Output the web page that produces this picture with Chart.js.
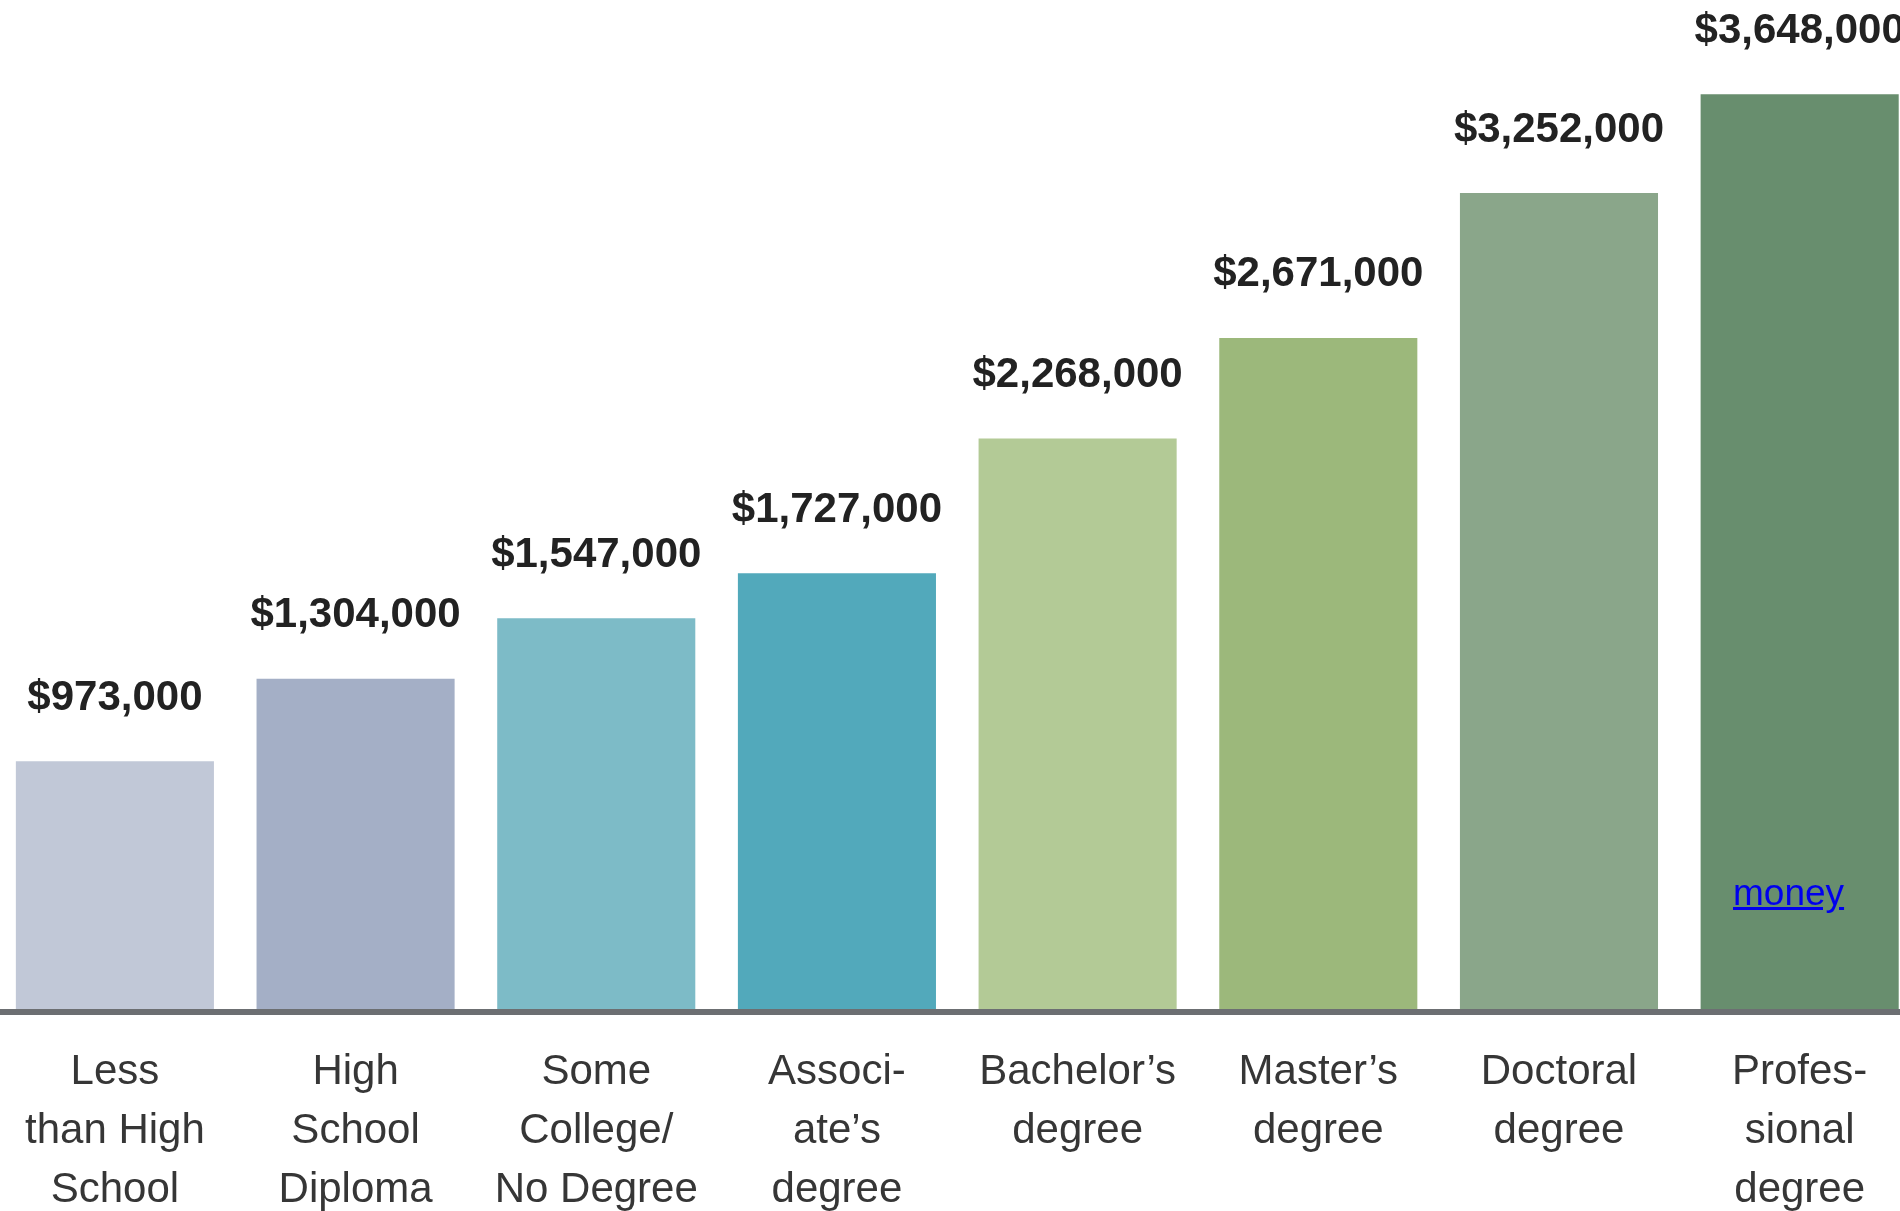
<!DOCTYPE html>
<html>
<head>
<meta charset="utf-8">
<title>Lifetime earnings by education</title>
<script src="https://cdn.jsdelivr.net/npm/chart.js@4.4.1/dist/chart.umd.min.js"></script>
<style>
  html, body { margin: 0; padding: 0; background: #fff; overflow: hidden; }
  #wrap { position: absolute; left: -6px; top: 0; width: 1926px; height: 1211px; }
  #money {
    position: absolute; left: 1733px; top: 872px;
    font: 37px "Liberation Sans", Arial, sans-serif;
    color: #0000ee; text-decoration: underline;
  }
</style>
</head>
<body>
<div id="wrap"><canvas id="earnings"></canvas></div>
<a id="money" href="#">money</a>
<script>
'use strict';

// categories (split into lines as printed under each bar)
const levels = [
  ['Less', 'than High', 'School'],
  ['High', 'School', 'Diploma'],
  ['Some', 'College/', 'No Degree'],
  ['Associ-', 'ate\u2019s', 'degree'],
  ['Bachelor\u2019s', 'degree'],
  ['Master\u2019s', 'degree'],
  ['Doctoral', 'degree'],
  ['Profes-', 'sional', 'degree']
];

// lifetime earnings, dollars
const earnings = [973000, 1304000, 1547000, 1727000, 2268000, 2671000, 3252000, 3648000];

const barColors = ['#c1c8d7', '#a4afc6', '#7dbbc7', '#52a9bb', '#b3ca96', '#9cb87b', '#8aa68a', '#688e6e'];

// value axis range (axis line sits slightly below zero)
const yMin = -32000;
const yMax = 4026000;

// draws the "$973,000" style labels above each bar
const valueLabels = {
  id: 'valueLabels',
  afterDatasetsDraw(chart) {
    const ctx = chart.ctx;
    const meta = chart.getDatasetMeta(0);
    ctx.save();
    ctx.font = 'bold 42px "Liberation Sans", Arial, sans-serif';
    ctx.fillStyle = '#222';
    ctx.textAlign = 'center';
    ctx.textBaseline = 'middle';
    meta.data.forEach((bar, i) => {
      ctx.fillText('$' + earnings[i].toLocaleString('en-US'), bar.x, bar.y - 63);
    });
    ctx.restore();
  }
};

document.addEventListener('DOMContentLoaded', () => {
  new Chart(document.getElementById('earnings'), {
    type: 'bar',
    data: {
      labels: levels,
      datasets: [{
        data: earnings,
        backgroundColor: barColors,
        borderWidth: 0,
        base: yMin,
        categoryPercentage: 1,
        barPercentage: 0.823
      }]
    },
    options: {
      responsive: true,
      maintainAspectRatio: false,
      animation: false,
      layout: { padding: 0 },
      plugins: {
        legend: { display: false },
        tooltip: { enabled: false }
      },
      scales: {
        x: {
          grid: { display: false, drawTicks: false },
          border: { display: true, color: '#6c6f72', width: 6, z: 1 },
          ticks: {
            padding: 31,
            color: '#363636',
            font: { family: '"Liberation Sans", Arial, sans-serif', size: 42, lineHeight: 1.405 },
            maxRotation: 0,
            autoSkip: false
          },
          afterFit: scale => { scale.height = 199; }
        },
        y: {
          display: false,
          min: yMin,
          max: yMax
        }
      }
    },
    plugins: [valueLabels]
  });
});
</script>
</body>
</html>
